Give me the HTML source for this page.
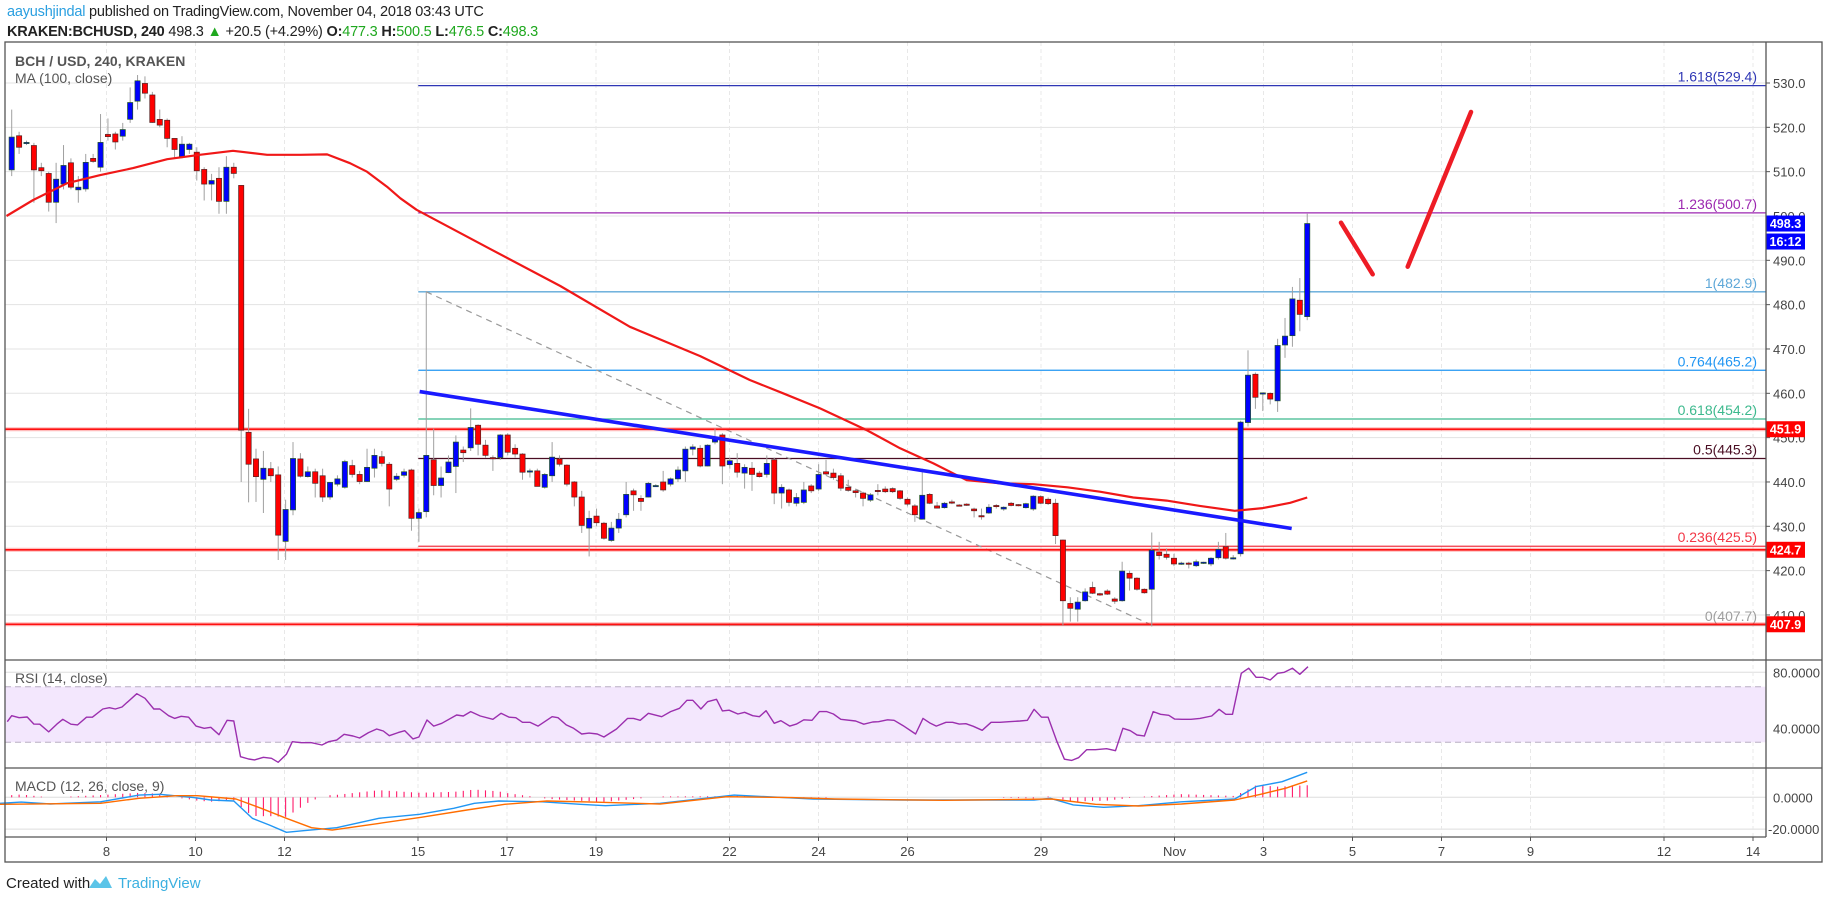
<!DOCTYPE html>
<html><head><meta charset="utf-8">
<style>
body{margin:0;background:#fff;}
#wrap{position:relative;width:1828px;height:899px;overflow:hidden;background:#fff;font-family:"Liberation Sans","DejaVu Sans",sans-serif;}
.hdr{position:absolute;left:7px;font-size:14.5px;color:#222;white-space:nowrap;letter-spacing:-0.2px;}
svg text{font-family:"Liberation Sans","DejaVu Sans",sans-serif;}
</style></head>
<body>
<div id="wrap">
<div class="hdr" style="top:4px"><span style="color:#2a9fe0">aayushjindal</span> published on TradingView.com, November 04, 2018 03:43 UTC</div>
<div class="hdr" style="top:24px"><b>KRAKEN:BCHUSD, 240</b> 498.3 <span style="color:#1fa81f">▲</span> +20.5 (+4.29%) <b>O:</b><span style="color:#1fa81f">477.3</span> <b>H:</b><span style="color:#1fa81f">500.5</span> <b>L:</b><span style="color:#1fa81f">476.5</span> <b>C:</b><span style="color:#1fa81f">498.3</span></div>
<svg id="chart" width="1828" height="899" style="position:absolute;left:0;top:0">
<g id="grid"></g>
<rect x="5" y="686.7" width="1761" height="55.6" fill="#f3e7fd"/>
<line x1="5" x2="1761" y1="686.7" y2="686.7" stroke="#b8aec4" stroke-dasharray="6,4"/>
<line x1="5" x2="1761" y1="742.3" y2="742.3" stroke="#b8aec4" stroke-dasharray="6,4"/>
<g id="fib"></g>
<g id="hlines"></g>
<g id="candles"></g>
<g id="overlay"></g>
<g id="axes"></g>
<text x="15" y="66" font-size="14" fill="#555" font-weight="bold">BCH / USD, 240, KRAKEN</text>
<text x="15" y="83" font-size="14" fill="#555">MA (100, close)</text>
<text x="15" y="683" font-size="14" fill="#555">RSI (14, close)</text>
<text x="15" y="791" font-size="14" fill="#555">MACD (12, 26, close, 9)</text>
<rect x="5" y="42" width="1817" height="820" fill="none" stroke="#555" stroke-width="1.3"/>
<line x1="1766" x2="1766" y1="42" y2="837" stroke="#555" stroke-width="1.3"/>
<line x1="5" x2="1822" y1="660" y2="660" stroke="#555" stroke-width="1.3"/>
<line x1="5" x2="1822" y1="768" y2="768" stroke="#555" stroke-width="1.3"/>
<line x1="5" x2="1766" y1="837" y2="837" stroke="#555" stroke-width="1.3"/>
<text x="6" y="888" font-size="15" fill="#222">Created with</text>
<g><path d="M89 888 l6 -9 l5 5 l6 -8 l6 12 z" fill="#5bc4e8"/><text x="118" y="888" font-size="15" fill="#3bb0e0">TradingView</text></g>
</svg>
</div>
<script>
// ---- data ----
const open=[510.4,518.1,516.5,515.9,510.9,509.6,503.1,507.2,512,505.9,506.1,513,511,518.4,518.5,518,521.8,525.9,529.9,527.3,521.8,521.6,517.5,513.4,515,514.4,510.5,507.2,508.5,503.3,511,506.9,451.2,445.2,440.6,443,441.6,426.6,433.7,445.2,441.2,442.3,441.4,436.6,439.5,438.8,443.7,441.7,440.1,443.1,445.7,444,440.6,441.5,442.7,431.8,433.3,445,439.2,442.1,443.5,447.2,447.7,452.8,448.3,445.5,445.5,450.6,447.6,446.3,442.5,442.5,438.8,441.4,445.2,443.8,440,436.6,429.6,432.3,430.7,426.8,429.6,432.6,438,436.3,436.6,439.2,440,439.5,440.7,442.5,447.4,447.6,443.6,449,450.6,443.9,444.2,442,443.1,442,441.7,445,437.5,438.2,435.2,435.4,439.1,438.4,442.3,442,441.4,438.8,438,437.5,435.9,438.1,438.4,438.5,438,436.1,434.6,431.6,437.2,434.6,434.2,435.5,434.8,435,433.9,432.4,433,434.7,433.9,435.2,434.9,434.2,433.9,436.7,436.1,435.2,426.9,412.6,411.3,413.2,416.2,414.8,415.4,413.6,413.2,419.4,418.3,415.8,415.8,424.2,423.7,422.8,421.6,421.7,421.1,421.8,421.5,422.9,425.4,422.8,423.8,453.4,464.3,460,460,458.3,470.9,473,481,477.3];
const close=[517.8,515.5,516.6,510.4,510.2,503.1,508.3,511.4,506.5,506.5,512.1,512.3,516.6,517.9,516.7,519.5,525.6,530.5,527.7,521.1,520.5,517.5,515,516.2,516.2,510.2,507.2,508,503.3,511,509.6,451.7,444,441.2,443.1,441.4,428,433.8,445.3,441.3,442.3,439.7,436.6,439.9,440.7,444.6,441.7,440.1,443.3,446,444.2,438.4,441.3,442.3,431.8,433.1,446,439.2,440.9,444.5,449,446.6,452.3,448.5,446,445.4,450.6,446.7,446.3,442.2,442.5,439,441.7,445.6,444,439.5,436.6,430.2,431.8,430.8,427.3,429.6,431.6,437.2,437.1,435.6,439.7,439.2,438.2,440.7,442.7,447.4,447.9,443.6,448.3,449.8,443.6,444.8,442.2,443.3,441.7,441.2,444.2,437.5,438.8,435.4,436.5,438.2,438,441.7,441.8,441,438.6,438.1,437.6,436.3,437.1,437.9,437.8,437.8,436.3,435,432.6,437,435.2,434.1,435.2,435.3,434.6,434.8,433.5,432.2,434.3,434.5,434.3,434.7,434.7,435.1,436.8,435.2,435.1,427.9,413.2,411.5,412.9,415.2,414.9,414.5,414.7,413.1,419.9,418.3,415.8,415,424.6,423.4,423,421.5,421.7,421.6,422,421.9,422.8,424.8,422.8,422.9,453.5,464.1,459.1,460.1,458.7,470.8,472.9,481.3,477.8,498.3];
const high=[524,519,517,516.5,512,510,512,516,513,509,514,514,523,522,519,521,529,531.8,531.5,528,524,522,517.5,518,516.5,515.5,511,509.5,511,513.5,512,507,456.5,447.5,447,444.5,443.5,436,449,446.5,443.5,443,443,440,441.5,445,445,442.5,447.5,447.5,447,444.5,442,443,443,434,483,452,443.5,446,450.5,448,456.6,453,449.5,446,450.8,451,448.5,446.5,443,443,442,449,446,444,440.2,438,433.5,434,431,431,433,440,438.5,437,440,439.5,442.5,441,443.5,448,448.5,448.3,448.5,452,451,445.5,446.5,444,444.5,442.5,446,445.5,439.5,438.5,437.5,440,439.5,444,445,443,442,440.5,438.5,437.8,437.5,439.5,439,438.8,438.2,436.5,435,443,437.5,435.5,435.5,436,435,435.2,434.2,434,435,435,434.5,435.5,435,435.3,437,437,436.5,436.2,427,414,414,416,417.5,415,415.8,414,422,420,418.5,416,428.6,426.5,425,423.8,422,422,422.5,422,423,426.5,428.5,423.5,453.8,469.7,464.7,460.2,460.2,472.3,477,484,486,500.5];
const low=[509,514,516,503,509,501,498.4,506,506,503,505.5,512,510,517,515,517,521,524,526.5,521,520,515.5,513,513,514,508,503.5,503.5,500.5,500.5,508.5,440,435.4,435.5,433,440,422.4,422.4,432.5,441,441,436.5,435.5,436,439,438.5,441,439.5,440,441,443.5,434.5,440.2,441,429,426.5,432,437,436.5,442,437.5,444.5,447,446,445.5,442.5,445,446,445.5,440.5,441,439,438.5,440,443.5,439,434.5,428.5,423.2,430,427,426.5,428.5,432,433.5,433.5,436.5,439,437.8,439,440,440,446,443.3,443.5,448.5,439.5,443,441,438.5,438,441,441,435,434,434.5,434.5,435,437.5,438,441.5,440.5,438,437.8,436.5,434.5,435.5,437,437.5,437.5,436,434.5,431,431.5,435,434,434,435,434.5,434.6,432,431.5,432.8,434,433.5,434.5,434.5,434,433.5,435,434.8,426,407.7,408.5,408.5,413,414.7,414.3,414.5,412.5,413,415.5,415.5,414.8,407.4,422.5,422.5,421,421.3,420.5,420.8,421.5,421,422.5,422.5,422.5,423.2,452.5,456.5,456,457.5,455.8,468,470.5,474,476.5];
const maT=[-0.7,2.9,7.5,11.9,16.4,21,25.4,29.9,34.5,39,42.6,45.7,48,50.7,52.5,54.7,64.6,74.1,83.5,93,99.7,104.2,109.2,115.5,120,124.5,129,133.5,138,142.6,147,151.5,156,160.5,165.2,169,172.7,175];
const maVal=[500,503.6,507.4,509.2,510.8,512.8,513.8,514.7,513.8,513.8,513.9,511.9,510,506.6,504,501.4,492.6,484.2,475,468.4,463,460,456.6,451.7,447.6,444.2,440.4,439.7,439.5,438.8,437.8,436.5,435.8,434.6,433.5,434.1,435.3,436.5];
const rsiT=[-0.6,0,1,2.1,3,3.8,5,6.1,6.9,8,8.9,10.1,10.9,12.3,13.2,14,14.9,16.9,18,19.2,20,21.2,22,22.9,23.9,24.9,26,26.9,28,29.1,30,30.9,32,32.8,34,35.1,36,37.1,37.9,39.1,40.5,41.9,42.8,43.9,44.9,46.1,47,48.2,49.3,50.2,51,52.2,53.1,54.2,55,56.1,57,58.1,60.1,61,62,63.3,65,66.1,67.2,68.1,69,70,71.1,73,73.8,74.9,75.9,77,78,79.1,80,81.7,83.2,84,84.9,86,87.8,89,90.2,91.2,92,93.1,94,95.2,96,96.9,98.1,99,100.1,101,101.9,103,103.9,105.1,106,107,108.1,109.1,110.1,111,112,114,115.1,116.3,117.1,118.3,119.2,120.4,122.1,123.1,124.1,124.9,126.2,127.1,128,128.9,129.9,131.1,132.3,133.5,134.7,136.2,137.2,138.1,139.1,140,141.2,142.2,143.2,144.1,145.2,146.4,147.9,149.1,150.1,151.1,152,153,154.2,155.2,156.3,157.1,158.1,159.3,160.5,162.1,163.1,164,164.9,166.1,167.1,168.1,169,170,171,171.9,173,174,175.1];
const rsiVal=[44.7,49,47.6,48.1,43,42.9,37.4,43,46.4,42.9,42.4,47.9,47.9,53.8,54.7,53.8,55.2,64.7,61.4,53.8,53.8,49,47.1,48.6,47.9,41.6,40,40.7,35.4,45.7,45.2,19.7,18.1,17.4,19.3,18.6,15.7,21.4,30.4,29.7,29.7,28.1,30.4,31.6,35.7,34.5,33.1,36.9,39.5,38.1,34.7,36.9,38.3,32.4,33.8,45.9,41.6,43.6,49.5,48.8,51.9,48.8,46.4,50.7,47.9,47.6,44.3,44.3,41.6,48.3,47.6,42.4,40,35.9,36.6,35.9,33.8,39.5,47.1,47.1,45.7,50.7,48.3,51.9,54.3,60,60,53.8,59,60.7,52.4,52.9,50.2,51.4,49,48.3,52.6,43.6,45.4,41.6,43,46.1,45.7,51.9,51.9,50.2,46.4,45.2,42.9,44.5,44.7,46.1,45.7,41.9,35.9,47.1,43.6,41.6,44.3,44.3,43,43.3,41.4,38.6,44.3,44.3,44.7,45.2,45.7,53.6,47.9,47.9,30.4,17.9,17.1,19,24.7,24.7,25.4,24,40,38.3,35.2,34.5,51.9,50,49.3,46.6,46.4,46.4,47.1,48.8,53.6,50,50,79.3,82.9,76.4,76.4,74.5,79.3,80,82.9,78.6,84];
const macdT=[-1.6,1.3,5.2,12,17.2,20,24.6,26.9,30,32.5,34.8,37.1,39.4,43.9,49.6,55.1,59.7,62.5,65.8,71.7,76.8,80.2,87.6,97.6,108.3,120,138.1,140.3,143.4,147.5,152.2,158,165.2,168.1,171.6,175];
const macdVal=[-3.8,-3,-4.2,-2.8,1.4,1.9,-0.2,-1.7,-2.3,-13.2,-17.4,-22,-21,-19.1,-13.2,-10.7,-6.9,-3.8,-2.3,-2.8,-4.4,-5.3,-3.8,1.4,-1.1,-1.7,-1.7,-0.6,-4.8,-6.3,-5.3,-2.8,-1.1,6.7,9.8,15.7];
const sigT=[-1.6,12,17.2,22.3,25.1,30.3,33.7,37.1,40.5,43.3,49.6,55.3,61.5,66.6,72.3,79.1,87.6,96.6,105.4,111.2,125.9,140.5,146.4,152.2,158,165.2,168.7,172.1,175];
const sigVal=[-4.4,-3.8,-0.6,1,1,-1.1,-6.9,-13.2,-19.1,-20.6,-16.4,-12.6,-8,-4.4,-2.3,-3.1,-4.2,0.4,-0.2,-1.1,-1.9,-1.1,-4.4,-5.5,-4.2,-1.7,1.9,5.7,10.3];
const priceTicks=[530,520,510,500,490,480,470,460,450,440,430,420,410];
const dayTicks=[8,10,12,15,17,19,22,24,26,29,32,34,36,38,40,43,45];
const dayLabels=["8","10","12","15","17","19","22","24","26","29","Nov","3","5","7","9","12","14"];
const fibLevels=[1.618,1.236,1,0.764,0.618,0.5,0.236,0];
const fibPrices=[529.4,500.7,482.9,465.2,454.2,445.3,425.5,407.7];
const fibColors=["#2f37b5","#9c27b0","#5fa8d8","#2196f3","#3cb98d","#4a0e23","#f23645","#9e9e9e"];
const supportLevels=[451.9,424.7,407.9];
const trendStart=[57,460.4], trendEnd=[172.9,429.5];
const fibAnchorHigh=[56,482.9], fibAnchorLow=[154,407.7];
const lastPrice=498.3, countdown="16:12";

// ---- scales ----
const X0=11.7, STEP=7.403;
const xC=i=>X0+i*STEP;
const yP=p=>83+(530-p)*4.433;
const yR=v=>672.3+(80-v)*1.4;
const yM=v=>797.3-v*1.59;
const xD=d=>1753-(45-d)*44.5;
const NS="http://www.w3.org/2000/svg";
function mk(tag,attrs,parent){const e=document.createElementNS(NS,tag);for(const k in attrs)e.setAttribute(k,attrs[k]);parent.appendChild(e);return e;}
const G=id=>document.getElementById(id);

// grid
const grid=G('grid');
priceTicks.forEach(p=>{const l=mk('line',{x1:5,x2:1766,y1:yP(p),y2:yP(p),stroke:'#e3e3e3'},grid);

});
[80,40].forEach(v=>{const l=mk('line',{x1:5,x2:1766,y1:yR(v),y2:yR(v),stroke:'#dedede'},grid);

});
[0,-20].forEach(v=>{const l=mk('line',{x1:5,x2:1766,y1:yM(v),y2:yM(v),stroke:'#dedede'},grid);

});
dayTicks.forEach(d=>{const l=mk('line',{x1:xD(d),x2:xD(d),y1:42,y2:837,stroke:'#e8e8e8','stroke-dasharray':'4,3'},grid);

});

// fib
const fib=G('fib');
fibPrices.forEach((p,k)=>{const l=mk('line',{x1:xC(fibAnchorHigh[0])-8,x2:1766,y1:yP(p),y2:yP(p),stroke:fibColors[k],'stroke-width':1.3},fib);


const t=mk('text',{x:1757,y:yP(p)-4,'text-anchor':'end','font-size':14,fill:fibColors[k]},fib);


t.textContent=fibLevels[k]+'('+p.toFixed(1)+')';});
const dl=mk('line',{x1:xC(fibAnchorHigh[0]),y1:yP(fibAnchorHigh[1]),x2:xC(fibAnchorLow[0]),y2:yP(fibAnchorLow[1]),stroke:'#999','stroke-width':1.2,'stroke-dasharray':'6,5'},fib);



// support lines
const hl=G('hlines');
supportLevels.forEach(p=>{const a=mk('line',{x1:5,x2:1766,y1:yP(p),y2:yP(p),stroke:'rgba(255,60,60,0.35)','stroke-width':4},hl);


const b=mk('line',{x1:5,x2:1766,y1:yP(p),y2:yP(p),stroke:'#ff1010','stroke-width':1.6},hl);

});

// candles
const cg=G('candles');
for(let i=0;i<open.length;i++){
 const x=xC(i),up=close[i]>=open[i];
 const w=mk('line',{x1:x,x2:x,y1:yP(high[i]),y2:yP(low[i]),stroke:'#a0a0a0','stroke-width':1},cg);
 
 
 const top=yP(Math.max(open[i],close[i])),bot=yP(Math.min(open[i],close[i]));
 const r=mk('rect',{x:x-2.6,y:top,width:5.2,height:Math.max(1.2,bot-top),fill:up?'#0000ff':'#ff0000',stroke:up?'#225522':'#552222','stroke-width':0.7},cg);
 
 
}

// overlays
const ov=G('overlay');
function poly(ts,vs,yf,color,w){const pts=ts.map((t,k)=>xC(t).toFixed(1)+','+yf(vs[k]).toFixed(1)).join(' ');
 return mk('polyline',{points:pts,fill:'none',stroke:color,'stroke-width':w,'stroke-linejoin':'round'},ov);}
const ma=poly(maT,maVal,yP,'#f01818',2.2);


const tl=mk('line',{x1:xC(trendStart[0])-14,y1:yP(trendStart[1]),x2:xC(trendEnd[0]),y2:yP(trendEnd[1]),stroke:'#1a1aff','stroke-width':3.6},ov);


const rsi=poly(rsiT,rsiVal,yR,'#9b2fae',1.4);


function interp(ts,vs,t){if(t<=ts[0])return vs[0];for(let k=1;k<ts.length;k++){if(t<=ts[k]){const f=(t-ts[k-1])/(ts[k]-ts[k-1]);return vs[k-1]+f*(vs[k]-vs[k-1]);}}return vs[vs.length-1];}
for(let i=0;i<open.length;i++){const h=(interp(macdT,macdVal,i)-interp(sigT,sigVal,i))*1.4;
 if(Math.abs(h)<0.3)continue;
 const b=mk('line',{x1:xC(i),x2:xC(i),y1:yM(0),y2:yM(h),stroke:'#ff1a6a','stroke-width':1.1},ov);
 
 }
const ml=poly(macdT,macdVal,yM,'#2196f3',1.4);


const sl=poly(sigT,sigVal,yM,'#ff6d00',1.4);


const a1=mk('line',{x1:1341,y1:222.7,x2:1372.7,y2:274.3,stroke:'#ee1c25','stroke-width':4.5,'stroke-linecap':'round'},ov);


const a2=mk('line',{x1:1407.7,y1:266.7,x2:1471,y2:112,stroke:'#ee1c25','stroke-width':4.5,'stroke-linecap':'round'},ov);



// axes
const ax=G('axes');
priceTicks.forEach(p=>{const t=mk('text',{x:1773,y:yP(p)+5,'font-size':13,fill:'#444'},ax);


t.textContent=p.toFixed(1);
const tk=mk('line',{x1:1766,x2:1770,y1:yP(p),y2:yP(p),stroke:'#555'},ax);

});
[[80,'80.0000'],[40,'40.0000']].forEach(v=>{const t=mk('text',{x:1773,y:yR(v[0])+5,'font-size':13,fill:'#444'},ax);


t.textContent=v[1];});
[[0,'0.0000'],[-20,'-20.0000']].forEach(v=>{const t=mk('text',{x:v[0]<0?1768:1773,y:yM(v[0])+5,'font-size':13,fill:'#444'},ax);


t.textContent=v[1];});
dayTicks.forEach((d,k)=>{const t=mk('text',{x:xD(d),y:856,'text-anchor':'middle','font-size':13,fill:'#444'},ax);


t.textContent=dayLabels[k];
const tk=mk('line',{x1:xD(d),x2:xD(d),y1:837,y2:841,stroke:'#555'},ax);

});
function tag(p,txt,color,name,dy){const y=yP(p)+(dy||0);
 const r=mk('rect',{x:1766,y:y-8,width:39,height:16,fill:color},ax);
 
 
 const t=mk('text',{x:1785.5,y:y+4.5,'text-anchor':'middle','font-size':12.5,'font-weight':'bold',fill:'#fff'},ax);
 
 
 t.textContent=txt;}
supportLevels.forEach(p=>tag(p,p.toFixed(1),'#ff0000','support-price-tag'));
tag(lastPrice,lastPrice.toFixed(1),'#0000ff','last-price-tag');
tag(lastPrice,countdown,'#0000ff','countdown-tag',18);
</script>
</body></html>
